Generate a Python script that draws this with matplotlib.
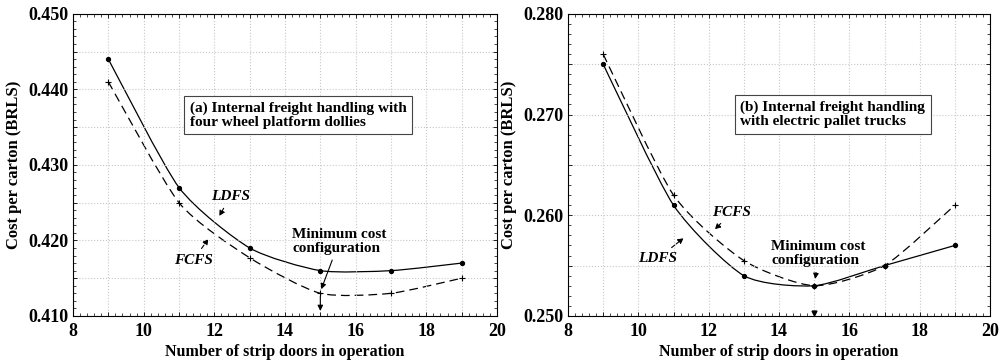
import matplotlib.pyplot as plt
from matplotlib.path import Path
from matplotlib.patches import PathPatch
from matplotlib.ticker import MultipleLocator, FuncFormatter

plt.rcParams["font.family"] = ["Liberation Serif", "DejaVu Serif"]
plt.rcParams["font.weight"] = "bold"

doors = [9, 11, 13, 15, 17, 19]

# (a) four wheel platform dollies
a_ldfs = [0.444, 0.427, 0.419, 0.416, 0.416, 0.417]
a_fcfs = [0.441, 0.425, 0.4177, 0.413, 0.413, 0.415]

# (b) electric pallet trucks
b_ldfs = [0.275, 0.261, 0.254, 0.253, 0.255, 0.257]
b_fcfs = [0.276, 0.262, 0.2555, 0.253, 0.255, 0.261]

fig = plt.figure(figsize=(10, 3.64), dpi=100)
ax1 = fig.add_axes([0.073, 0.132, 0.424, 0.83])
ax2 = fig.add_axes([0.568, 0.132, 0.422, 0.83])


def smooth_path(xs, ys, k=1 / 9):
    # Catmull-Rom-like curve through the points, drawn as cubic Bezier segments
    pts = list(zip(xs, ys))
    verts = [pts[0]]
    codes = [Path.MOVETO]
    n = len(pts)
    for i in range(n - 1):
        p0 = pts[max(i - 1, 0)]
        p1 = pts[i]
        p2 = pts[i + 1]
        p3 = pts[min(i + 2, n - 1)]
        c1 = (p1[0] + (p2[0] - p0[0]) * k, p1[1] + (p2[1] - p0[1]) * k)
        c2 = (p2[0] - (p3[0] - p1[0]) * k, p2[1] - (p3[1] - p1[1]) * k)
        verts += [c1, c2, p2]
        codes += [Path.CURVE4] * 3
    return Path(verts, codes)


def style_axis(ax, ylim, ystep):
    ax.set_xlim(8, 20)
    ax.set_ylim(*ylim)
    ax.xaxis.set_major_locator(MultipleLocator(1))
    ax.xaxis.set_minor_locator(MultipleLocator(0.2))
    ax.yaxis.set_major_locator(MultipleLocator(ystep / 2))
    ax.yaxis.set_minor_locator(MultipleLocator(ystep / 10))
    ax.xaxis.set_major_formatter(FuncFormatter(lambda v, p: f"{v:.0f}" if round(v) % 2 == 0 else ""))
    ax.yaxis.set_major_formatter(
        FuncFormatter(lambda v, p: f"{v:.3f}" if abs(round(v / ystep) * ystep - v) < 1e-6 else ""))
    ax.tick_params(which="both", direction="in", top=True, right=True, labelsize=13)
    ax.tick_params(axis="x", pad=5)
    ax.tick_params(which="major", length=3, width=0.6)
    ax.tick_params(which="minor", length=2, width=0.5)
    ax.grid(which="major", color="#c8c8c8", linestyle=":", linewidth=0.8)
    ax.set_xlabel("Number of strip doors in operation", fontsize=11.5, fontweight="bold", labelpad=3)
    ax.set_ylabel("Cost per carton (BRLS)", fontsize=12, fontweight="bold", labelpad=4)
    for s in ax.spines.values():
        s.set_linewidth(0.8)


style_axis(ax1, (0.410, 0.450), 0.010)
style_axis(ax2, (0.250, 0.280), 0.010)

for ax, ldfs, fcfs in [(ax1, a_ldfs, a_fcfs), (ax2, b_ldfs, b_fcfs)]:
    ax.add_patch(PathPatch(smooth_path(doors, ldfs), fill=False, ec="black", lw=0.9))
    ax.add_patch(PathPatch(smooth_path(doors, fcfs), fill=False, ec="black", lw=0.9, linestyle=(0, (7, 4))))
    ax.plot(doors, ldfs, linestyle="none", color="black", marker="o", markersize=2.8)
    ax.plot(doors, fcfs, linestyle="none", color="black", marker="+", markersize=5, markeredgewidth=0.8)

arrow = dict(arrowstyle="-|>", color="black", lw=0.8, linestyle="--", mutation_scale=8)
arrow_solid = dict(arrowstyle="-|>", color="black", lw=0.8, mutation_scale=8)
txt = dict(fontsize=11, fontweight="bold")

# panel (a)
ax1.text(11.3, 0.4366, "(a) Internal freight handling with\nfour wheel platform dollies", ha="left",
         va="center", linespacing=1.1, bbox=dict(boxstyle="square,pad=0.35", fc="white", ec="#444444", lw=0.8),
         **txt)
ax1.annotate("LDFS", xy=(12.1, 0.4229), xytext=(12.45, 0.4258), ha="center", va="center",
             style="italic", arrowprops=arrow, **txt)
ax1.annotate("FCFS", xy=(11.88, 0.4205), xytext=(11.4, 0.4174), ha="center", va="center",
             style="italic", arrowprops=arrow, **txt)
ax1.annotate("Minimum cost\nconfiguration", xy=(15.0, 0.4132), xytext=(14.2, 0.4199), ha="left",
             va="center", linespacing=1.1, arrowprops=arrow_solid, **txt)
ax1.annotate("", xy=(15.0, 0.4103), xytext=(15.0, 0.4130), arrowprops=arrow_solid)

# panel (b)
ax2.text(12.9, 0.2700, "(b) Internal freight handling\nwith electric pallet trucks", ha="left",
         va="center", linespacing=1.1, bbox=dict(boxstyle="square,pad=0.35", fc="white", ec="#444444", lw=0.8),
         **txt)
ax2.annotate("FCFS", xy=(12.12, 0.2584), xytext=(12.66, 0.2603), ha="center", va="center",
             style="italic", arrowprops=arrow, **txt)
ax2.annotate("LDFS", xy=(11.35, 0.2579), xytext=(10.55, 0.2557), ha="center", va="center",
             style="italic", arrowprops=arrow, **txt)
ax2.annotate("Minimum cost\nconfiguration", xy=(15.02, 0.2534), xytext=(13.78, 0.2562), ha="left",
             va="center", linespacing=1.1, arrowprops=arrow_solid, **txt)
ax2.plot([15], [0.2503], marker="v", color="black", markersize=3.5)

fig.savefig("out.png", dpi=100)
